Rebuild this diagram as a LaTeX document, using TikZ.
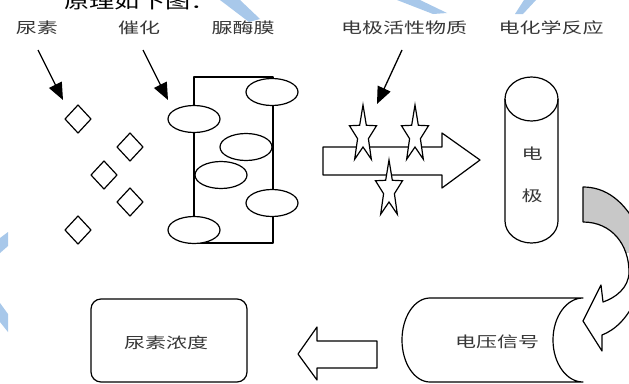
\documentclass[tikz,border=0pt]{standalone}
\usepackage{fontspec}
\newfontfamily\cjk[FakeStretch=1.4]{Noto Sans CJK SC}
\usetikzlibrary{arrows.meta,shapes.geometric}
\definecolor{txt}{RGB}{55,55,55}
\definecolor{wm}{RGB}{168,200,234}
\definecolor{shadegray}{RGB}{200,200,200}
\begin{document}
\begin{tikzpicture}[x=1pt,y=-1pt,
  lbl/.style={font=\cjk\fontsize{15}{18}\selectfont, text=txt, inner sep=0pt},
  ln/.style={line width=1.2pt, line join=round},
  pointer/.style={line width=1.3pt, -{Triangle[length=17pt,width=14pt]}},
  membr/.style={ellipse, draw, fill=white, line width=1.2pt, minimum width=52pt, minimum height=27pt, inner sep=0pt},
  dia/.pic={\draw[ln] (0,-14) -- (13,0) -- (0,14) -- (-13,0) -- cycle;},
  starpic/.pic={\begin{scope}[xscale=14.2,yscale=-30]
     \draw[line width=1.2pt, line join=miter, fill=white] (90:1) -- (126:0.4) -- (162:1) -- (198:0.4) -- (234:1) -- (270:0.4) -- (306:1) -- (342:0.4) -- (18:1) -- (54:0.4) -- cycle;
     \end{scope}},
]
\path[use as bounding box, clip] (0,0) rectangle (629,383);
\fill[white] (0,0) rectangle (629,383);

% watermark fragments
\fill[wm] (220,0) -- (240,0) -- (260,19) -- (249,22) -- cycle;
\fill[wm] (397,0) -- (420,0) -- (447,13) -- (433,14) -- cycle;
\fill[wm] (524,0) -- (536,0) -- (523,14) -- (515,14) -- cycle;
\fill[wm] (0,238) -- (8,232) -- (8,246) -- (0,253) -- cycle;
\fill[wm] (0,303) -- (8,314) -- (8,332) -- (0,322) -- cycle;

% partial heading
\node[inner sep=0pt, font=\cjk\fontsize{18}{20}\selectfont] (intro) at (140,2) {原理如下图：};

% labels
\node[lbl] (urea) at (37,28) {尿素};
\node[lbl] (cat) at (139,28) {催化};
\node[lbl] (mem) at (243,28) {脲酶膜};
\node[lbl] (act) at (404,28) {电极活性物质};
\node[lbl] (ech) at (551,28) {电化学反应};

% pointer arrows
\coordinate (a1s) at (38,50);  \coordinate (a1e) at (63,100);
\coordinate (a2s) at (143,50); \coordinate (a2e) at (168,100);
\coordinate (a3s) at (402,50); \coordinate (a3e) at (377,104);
\draw[pointer] (a1s) -- (a1e);
\draw[pointer] (a2s) -- (a2e);
\draw[pointer] (a3s) -- (a3e);

% urea molecules
\pic (d1) at (78,119) {dia};
\pic (d2) at (130,147) {dia};
\pic (d3) at (104,175) {dia};
\pic (d4) at (130,202) {dia};
\pic (d5) at (78,230) {dia};

% urease membrane
\draw[ln] (194,77) rectangle (273,243);
\node[membr] (e1) at (272,92) {};
\node[membr] (e2) at (194,119) {};
\node[membr] (e3) at (246,147) {};
\node[membr] (e4) at (221,175) {};
\node[membr] (e5) at (272,203) {};
\node[membr] (e6) at (194,230) {};

% big hollow arrow
\draw[ln] (323,147) -- (442,147) -- (442,133) -- (480,160) -- (442,188) -- (442,175) -- (323,175) -- cycle;
\pic (s1) at (363,135) {starpic};
\pic (s2) at (415,135) {starpic};
\pic (s3) at (389,190) {starpic};

% electrode cylinder
\draw[ln] (505,99) -- (505,221) arc[start angle=180, end angle=0, x radius=26.5, y radius=22] -- (558,99);
\draw[ln] (531.5,99) ellipse[x radius=26.5, y radius=22];
\node[lbl] (el1) at (532,154) {电};
\node[lbl] (el2) at (532,196) {极};

% curved arrow
\fill[shadegray] (583,187) .. controls (605,187) and (625,200) .. (640,232) -- (640,252.8) -- (625.89,252.8) .. controls (619.75,234.94) and (604.75,222) .. (583,222) -- cycle;
\draw[ln] (583,222) -- (583,187) .. controls (605,187) and (625,200) .. (640,232);
\draw[ln] (583,222) .. controls (612,222) and (629,245) .. (629,272) .. controls (629,288) and (615,298) .. (603,302) -- (601,285) -- (583,321) -- (602,351) -- (602,335) .. controls (615,330) and (628,318) .. (636,298);

% voltage signal shape
\draw[ln] (430,298) -- (583,298) arc[start angle=270, end angle=90, x radius=30, y radius=42] -- (430,382) arc[start angle=90, end angle=270, x radius=28, y radius=42] -- cycle;
\node[lbl] (volt) at (497,342) {电压信号};

% hollow left arrow
\draw[ln] (377,341) -- (317,341) -- (317,327) -- (298,354) -- (317,380) -- (317,368) -- (377,368) -- cycle;

% concentration box
\node[draw, line width=1.2pt, rounded corners=10pt, minimum width=156pt, minimum height=83pt, inner sep=0pt] (concbox) at (169,340.5) {};
\node[lbl] (conc) at (166,343) {尿素浓度};
\end{tikzpicture}
\end{document}
